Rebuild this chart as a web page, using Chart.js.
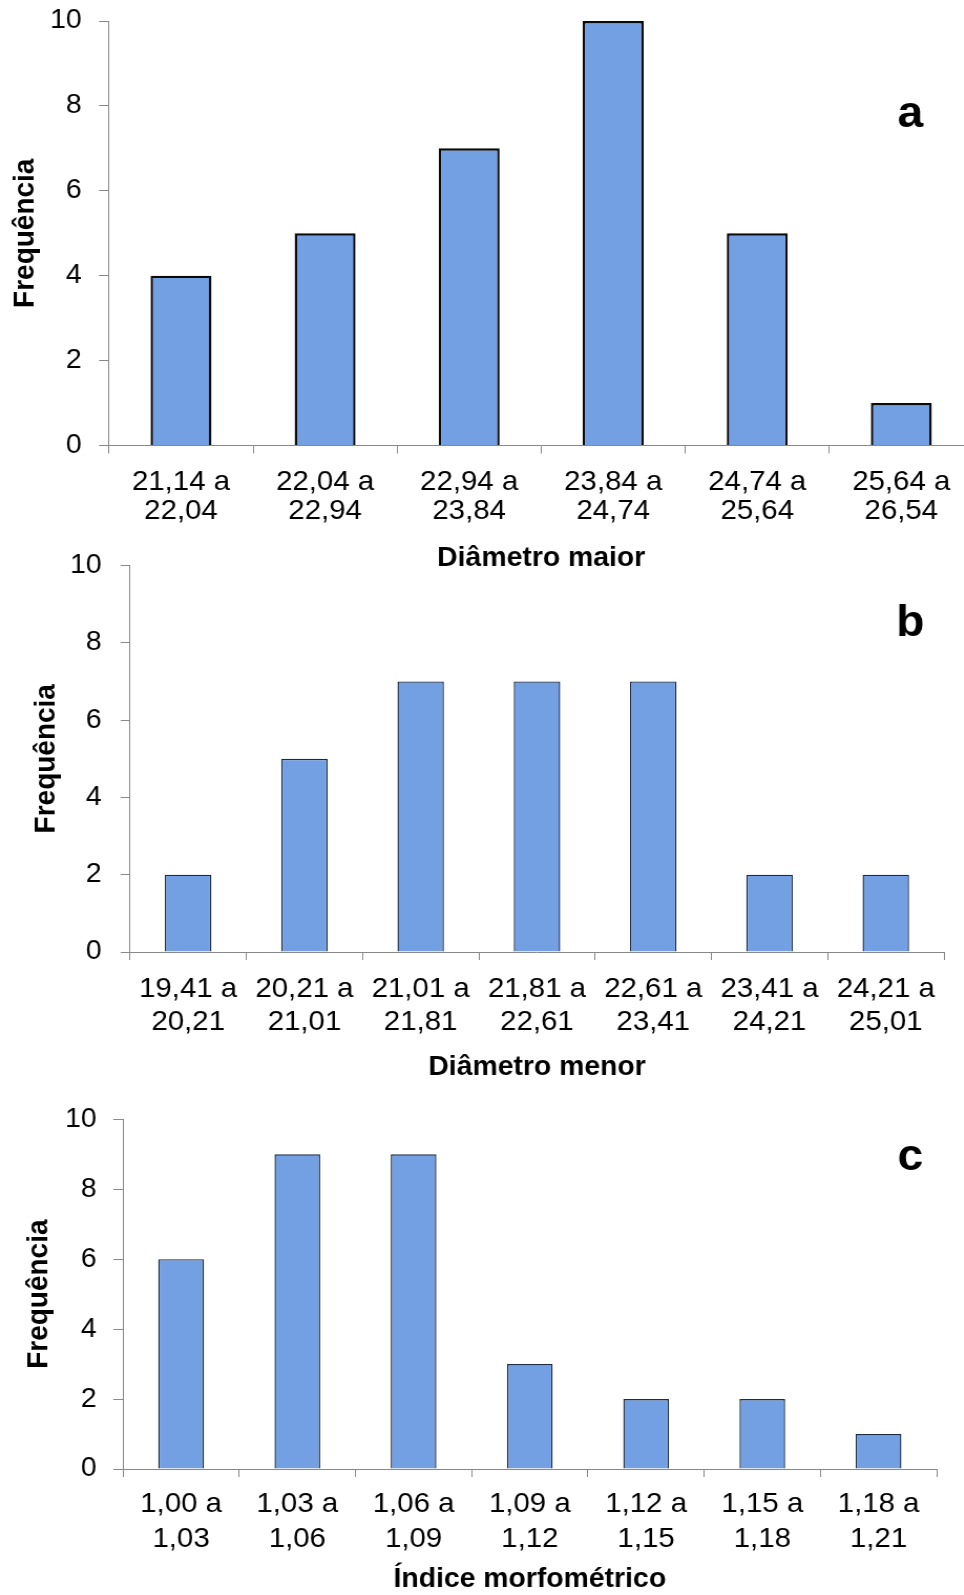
<!DOCTYPE html>
<html>
<head>
<meta charset="utf-8">
<script src="https://cdn.jsdelivr.net/npm/chart.js@4.4.1/dist/chart.umd.min.js"></script>
<style>
  html, body { margin: 0; padding: 0; background: #fff; overflow: hidden; width: 964px; height: 1595px; }
  /* the source figure is a little wider than tall, so each chart box is widened the same way */
  .box { position: absolute; left: 0; transform: scaleX(1.05); transform-origin: 0 0; }
  .box canvas { display: block; }
</style>
</head>
<body>
<div class="box" style="top:-14px"><canvas id="chartA" width="934" height="604"></canvas></div>
<div class="box" style="top:530px"><canvas id="chartB" width="934" height="560"></canvas></div>
<div class="box" style="top:1084px"><canvas id="chartC" width="934" height="516"></canvas></div>
<script>
// data
var labelsA = [['21,14 a', '22,04'], ['22,04 a', '22,94'], ['22,94 a', '23,84'],
               ['23,84 a', '24,74'], ['24,74 a', '25,64'], ['25,64 a', '26,54']];
var freqA = [4, 5, 7, 10, 5, 1];

var labelsB = [['19,41 a', '20,21'], ['20,21 a', '21,01'], ['21,01 a', '21,81'], ['21,81 a', '22,61'],
               ['22,61 a', '23,41'], ['23,41 a', '24,21'], ['24,21 a', '25,01']];
var freqB = [2, 5, 7, 7, 7, 2, 2];

var labelsC = [['1,00 a', '1,03'], ['1,03 a', '1,06'], ['1,06 a', '1,09'], ['1,09 a', '1,12'],
               ['1,12 a', '1,15'], ['1,15 a', '1,18'], ['1,18 a', '1,21']];
var freqC = [6, 9, 9, 3, 2, 2, 1];

var yTicks = { min: 0, max: 10, step: 2 };
var yTitle = 'Frequência';

var FONT = '"Liberation Sans", Arial, sans-serif';
var barColor = '#72a0e2';
var axisColor = '#888888';

var panelLetter = {
    id: 'panelLetter',
    afterDraw: function (chart, args, opts) {
        var ctx = chart.ctx;
        ctx.save();
        ctx.font = 'bold 44px ' + FONT;
        ctx.fillStyle = '#000';
        ctx.textAlign = 'center';
        ctx.textBaseline = 'alphabetic';
        ctx.fillText(opts.text, opts.x, opts.y);
        ctx.restore();
    }
};

function makeChart(id, labels, values, xTitle, c) {
    var ctx = document.getElementById(id).getContext('2d');
    return new Chart(ctx, {
        type: 'bar',
        data: {
            labels: labels,
            datasets: [{
                data: values,
                backgroundColor: barColor,
                borderColor: c.border,
                borderWidth: c.borderWidth,
                categoryPercentage: 1,
                barPercentage: c.barPct
            }]
        },
        plugins: [panelLetter],
        options: {
            responsive: false,
            animation: false,
            layout: { padding: { top: c.top, right: c.right, bottom: 0, left: 0 } },
            plugins: {
                legend: { display: false },
                tooltip: { enabled: false },
                panelLetter: { text: c.letter, x: 867, y: c.letterY }
            },
            scales: {
                x: {
                    grid: { offset: true, drawOnChartArea: false, tickLength: 8, color: axisColor },
                    border: { color: axisColor },
                    ticks: {
                        color: '#000', autoSkip: false, maxRotation: 0, minRotation: 0,
                        padding: c.xPad,
                        font: { family: FONT, size: 28, lineHeight: c.xLine }
                    },
                    title: {
                        display: true, text: xTitle, color: '#000',
                        padding: { top: 0, bottom: c.xTitlePad },
                        font: { family: FONT, size: 27, weight: 'bold', lineHeight: 1.2 }
                    },
                    afterFit: function (s) { s.height = c.xHeight; }
                },
                y: {
                    min: yTicks.min, max: yTicks.max,
                    grid: { drawOnChartArea: false, tickLength: c.yTick, color: axisColor },
                    border: { color: axisColor },
                    ticks: {
                        stepSize: yTicks.step, color: '#000', padding: c.yPad,
                        font: { family: FONT, size: 27 }
                    },
                    title: {
                        display: true, text: yTitle, color: '#000',
                        padding: { top: c.yTitlePad, bottom: 0 },
                        font: { family: FONT, size: 28, weight: 'bold', lineHeight: 1.2 }
                    },
                    afterFit: function (s) { s.width = c.left; }
                }
            }
        }
    });
}

makeChart('chartA', labelsA, freqA, 'Diâmetro maior', {
    top: 35, right: 7, left: 103.8, xHeight: 144.5, xPad: 14, xLine: '29px', xTitlePad: 14.8,
    yTick: 9.5, yPad: 16.5, yTitlePad: 7.5, barPct: 0.423, border: '#0a0a0a', borderWidth: 2.4,
    letter: 'a', letterY: 141
});
makeChart('chartB', labelsB, freqB, 'Diâmetro menor', {
    top: 35.5, right: 35, left: 123.8, xHeight: 138, xPad: 13, xLine: '33px', xTitlePad: 5.8,
    yTick: 8.9, yPad: 18.1, yTitlePad: 27.7, barPct: 0.40, border: '#1b2b45', borderWidth: 1.4,
    letter: 'b', letterY: 106
});
makeChart('chartC', labelsC, freqC, 'Índice morfométrico', {
    top: 35.3, right: 41.9, left: 117.1, xHeight: 131, xPad: 10, xLine: '35px', xTitlePad: 3.8,
    yTick: 9.2, yPad: 15.8, yTitlePad: 20.3, barPct: 0.393, border: '#1b2b45', borderWidth: 1.4,
    letter: 'c', letterY: 86
});
</script>
</body>
</html>
